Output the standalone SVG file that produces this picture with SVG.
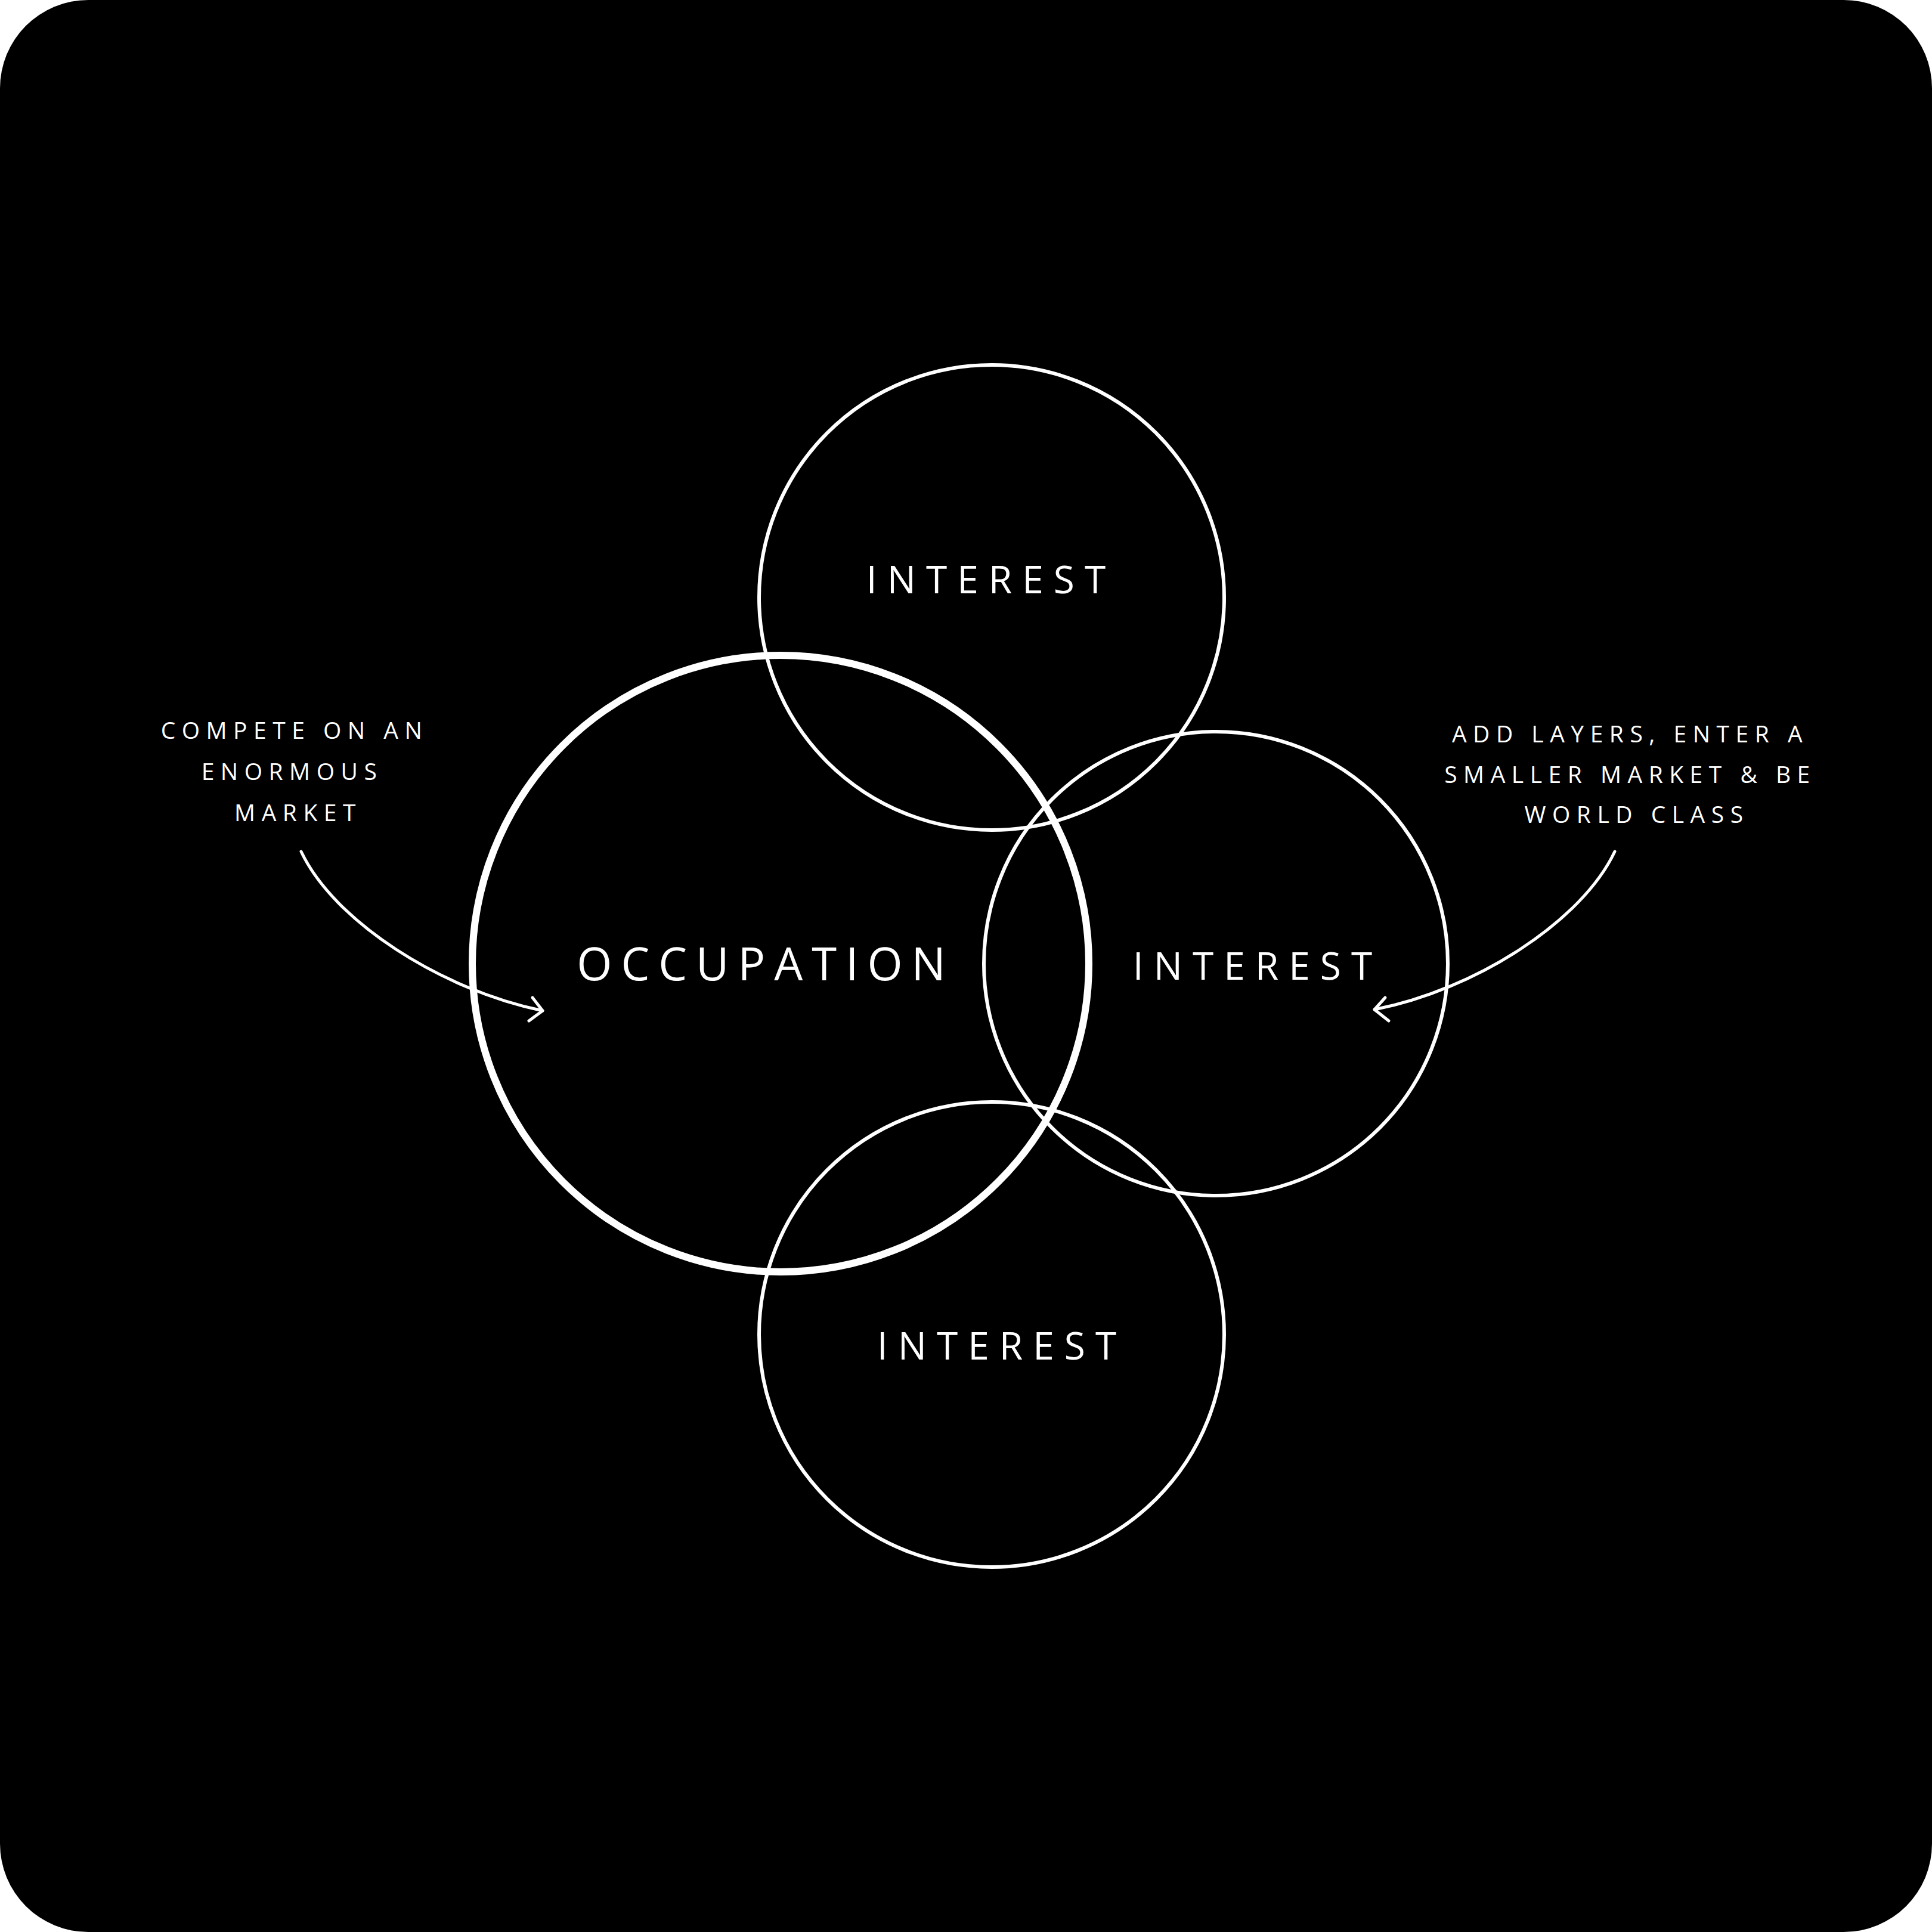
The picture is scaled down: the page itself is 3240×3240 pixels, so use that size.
<svg xmlns="http://www.w3.org/2000/svg" width="3240" height="3240" viewBox="0 0 3240 3240">
  <style>
    .ring { fill: none; stroke: #ffffff; stroke-width: 6; }
    .ring-main { fill: none; stroke: #ffffff; stroke-width: 12; }
    .title { font-family: "Open Sans", "Noto Sans", sans-serif; fill: #ffffff; text-anchor: middle; }
    .big { font-size: 64px; letter-spacing: 17px; }
    .occ { font-size: 76px; letter-spacing: 15px; }
    .note { font-size: 39px; letter-spacing: 10.5px; }
    .conn { fill: none; stroke: #ffffff; stroke-width: 5; stroke-linecap: round; stroke-linejoin: round; }
  </style>
  <rect x="0" y="0" width="3240" height="3240" fill="#ffffff"/>
  <rect x="0" y="0" width="3240" height="3240" rx="148" ry="148" fill="#000000"/>

  <g id="occupation">
    <circle class="ring-main" cx="1309" cy="1616" r="517"/>
    <text class="title occ" x="1284" y="1644">OCCUPATION</text>
  </g>
  <g id="interest-top">
    <circle class="ring" cx="1663" cy="1002" r="390"/>
    <text class="title big" x="1662" y="995">INTEREST</text>
  </g>
  <g id="interest-right">
    <circle class="ring" cx="2039" cy="1616" r="389"/>
    <text class="title big" x="2109" y="1643">INTEREST</text>
  </g>
  <g id="interest-bottom">
    <circle class="ring" cx="1663" cy="2238" r="390"/>
    <text class="title big" x="1680" y="2280">INTEREST</text>
  </g>

  <g id="note-left">
    <text class="title note" x="494" y="1239">COMPETE ON AN</text>
    <text class="title note" x="490" y="1308">ENORMOUS</text>
    <text class="title note" x="500" y="1377">MARKET</text>
  </g>
  <g id="note-right">
    <text class="title note" x="2734" y="1245">ADD LAYERS, ENTER A</text>
    <text class="title note" x="2734" y="1313">SMALLER MARKET &amp; BE</text>
    <text class="title note" x="2745" y="1380">WORLD CLASS</text>
  </g>

  <g id="connectors">
    <path class="conn" d="M505,1428 C560,1545 740,1660 910,1695"/>
    <path class="conn" d="M893,1673 L910,1695 L887,1712"/>
    <path class="conn" d="M2708,1428 C2653,1545 2474,1660 2305,1693"/>
    <path class="conn" d="M2323,1673 L2305,1693 L2329,1712"/>
  </g>
</svg>
